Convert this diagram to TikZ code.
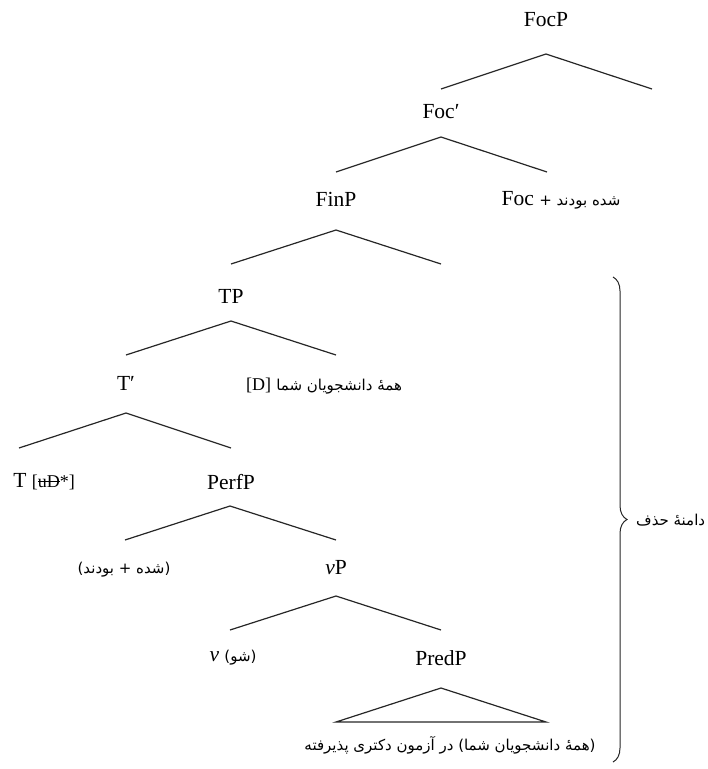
\documentclass[tikz,border=0pt]{standalone}
\usepackage{fontspec}
\setmainfont{Liberation Serif}
\newfontfamily\arfont[Script=Arabic]{DejaVu Sans}
\TeXXeTstate=1
\usetikzlibrary{decorations.pathreplacing}
\newcommand{\arsz}{\arfont\fontsize{15}{18}\selectfont}
\newcommand{\strk}[1]{\sbox0{#1}\rlap{#1}\rule[0.3em]{\wd0}{0.06em}}
\begin{document}
\begin{tikzpicture}[x=1pt,y=-1pt,
  lab/.style={font=\fontsize{21.5}{24}\selectfont, inner sep=0pt},
  artext/.style={font=\arsz, inner sep=0pt},
  br/.style={line width=1.2pt, black!85}]
\useasboundingbox (0,0) rectangle (708,769);
% labels
\node[lab] (FocP) at (546,20) {FocP};
\node[lab] (Focbar) at (441,112) {Foc′};
\node[lab] (FocH) at (561,200) {Foc {\arsz + \beginR شده بودند\endR}};
\node[lab] (FinP) at (336,199) {FinP};
\node[lab] (TP) at (231,296) {TP};
\node[lab] (Spec) at (324,386) {{\fontsize{18}{20}\selectfont [D]} {\arsz\beginR همهٔ دانشجویان شما\endR}};
\node[lab] (Tbar) at (126,383) {T′};
\node[lab] (T) at (44,482) {T {\fontsize{18}{20}\selectfont [\strk{uD}*]}};
\node[lab] (PerfP) at (231,482) {PerfP};
\node[artext] (Perf) at (124,570) {\beginR(شده + بودند)\endR};
\node[lab] (vP) at (336,568) {\textit{v}P};
\node[lab] (v) at (233,658) {\textit{v} {\arsz (شو)}};
\node[lab] (PredP) at (441,658) {PredP};
\node[artext] (Pred) at (450,745) {\beginR(همهٔ دانشجویان شما) در آزمون دکتری پذیرفته\endR};
\node[artext, anchor=west] (dom) at (636,520) {\beginR دامنهٔ حذف\endR};
% branch points
\coordinate (FocPa) at (546,54);  \coordinate (FocPl) at (441,89);  \coordinate (FocPr) at (652,89);
\coordinate (Focba) at (441,137); \coordinate (Focbl) at (336,172); \coordinate (Focbr) at (547,172);
\coordinate (FinPa) at (336,230); \coordinate (FinPl) at (231,264); \coordinate (FinPr) at (441,264);
\coordinate (TPa) at (231,321);   \coordinate (TPl) at (126,355);   \coordinate (TPr) at (336,355);
\coordinate (Tba) at (126,413);   \coordinate (Tbl) at (19,448);    \coordinate (Tbr) at (231,448);
\coordinate (PerfPa) at (230,506); \coordinate (PerfPl) at (125,540); \coordinate (PerfPr) at (336,540);
\coordinate (vPa) at (336,596);   \coordinate (vPl) at (230,630);   \coordinate (vPr) at (441,630);
\coordinate (PredPa) at (441,688); \coordinate (PredPl) at (336,722); \coordinate (PredPr) at (546,722);
\draw[br] (FocPl) -- (FocPa) -- (FocPr);
\draw[br] (Focbl) -- (Focba) -- (Focbr);
\draw[br] (FinPl) -- (FinPa) -- (FinPr);
\draw[br] (TPl) -- (TPa) -- (TPr);
\draw[br] (Tbl) -- (Tba) -- (Tbr);
\draw[br] (PerfPl) -- (PerfPa) -- (PerfPr);
\draw[br] (vPl) -- (vPa) -- (vPr);
\draw[br] (PredPl) -- (PredPa) -- (PredPr) -- cycle;
% brace
\coordinate (braceTop) at (613,277);
\coordinate (braceBot) at (613,762);
\draw[line width=1pt, black!85, decorate, decoration={brace, amplitude=14pt}] (braceTop) -- (braceBot);
\end{tikzpicture}
\end{document}
